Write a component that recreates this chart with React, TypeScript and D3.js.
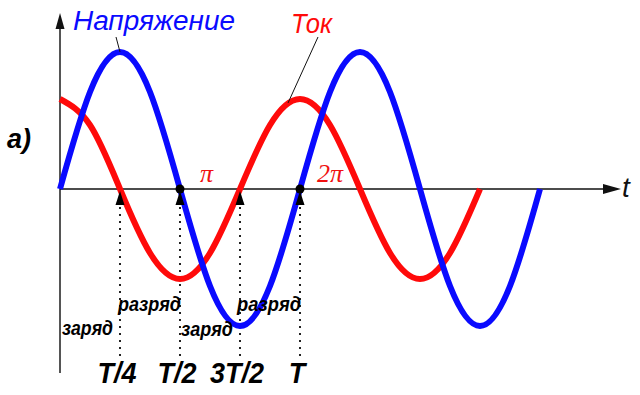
import React from "react";
import * as d3 from "d3";

// time in units of the period T
const timeV = [0, 0.125, 0.25, 0.375, 0.5, 0.625, 0.75, 0.875, 1, 1.125, 1.25, 1.375, 1.5, 1.625, 1.75, 1.875, 2];
const voltage = [0, 0.97, 1.37, 0.97, 0, -0.97, -1.37, -0.97, 0, 0.97, 1.37, 0.97, 0, -0.97, -1.37, -0.97, 0];
const timeI = [0, 0.125, 0.25, 0.375, 0.5, 0.625, 0.75, 0.875, 1, 1.125, 1.25, 1.375, 1.5, 1.625, 1.75];
const current = [0.9, 0.64, 0, -0.64, -0.9, -0.64, 0, 0.64, 0.9, 0.64, 0, -0.64, -0.9, -0.64, 0];

const tickPos = [0.25, 0.5, 0.75, 1];
const tickLabels = ["T/4", "T/2", "3T/2", "T"];
const dotPos = [0.5, 1];
const phaseLabels = ["π", "2π"];
const processLabels = ["заряд", "разряд", "заряд", "разряд"];

const SANS = "'Liberation Sans', Arial, sans-serif";
const SERIF = "'Liberation Serif', 'Times New Roman', serif";

export default function App() {
  const W = 640;
  const H = 395;
  const x = d3.scaleLinear().domain([0, 1]).range([60, 300]);
  const y = d3.scaleLinear().domain([-1.37, 1.37]).range([326, 52]);
  const y0 = y(0);

  const vLine = d3
    .line<number>()
    .x((_, i) => x(timeV[i]))
    .y((d) => y(d))
    .curve(d3.curveNatural);
  const iLine = d3
    .line<number>()
    .x((_, i) => x(timeI[i]))
    .y((d) => y(d))
    .curve(d3.curveNatural);

  const labelStyle = { fontFamily: SANS, fontWeight: 700, fontStyle: "italic" } as const;

  return (
    <svg
      width={W}
      height={H}
      viewBox={`0 0 ${W} ${H}`}
      style={{ position: "fixed", left: 0, top: 0, background: "#fff" }}
    >
      <rect width={W} height={H} fill="#fff" />
      {/* vertical axis */}
      <line x1={x(0)} x2={x(0)} y1={26} y2={373} stroke="#555" strokeWidth={2} />
      <path d={`M${x(0)},13 L${x(0) - 4.5},29 L${x(0) + 4.5},29 Z`} fill="#111" />
      {/* horizontal axis */}
      <line x1={x(0)} x2={606} y1={y0} y2={y0} stroke="#111" strokeWidth={1.5} />
      <path d={`M621,${y0} L603,${y0 - 5} L603,${y0 + 5} Z`} fill="#111" />
      <text x={622} y={197} fontFamily={SANS} fontStyle="italic" fontSize={28} fill="#111">
        t
      </text>

      {/* dotted guide lines */}
      {tickPos.map((p, i) => (
        <line
          key={"g" + i}
          x1={x(p)}
          x2={x(p)}
          y1={207}
          y2={356}
          stroke="#222"
          strokeWidth={2}
          strokeDasharray="2,5"
        />
      ))}

      {/* curves */}
      <path d={iLine(current) || ""} fill="none" stroke="#ff0a0a" strokeWidth={6} />
      <path d={vLine(voltage) || ""} fill="none" stroke="#0a0aff" strokeWidth={6} />

      {/* markers */}
      {tickPos.map((p, i) => (
        <path
          key={"a" + i}
          d={`M${x(p)},${y0 + 2} L${x(p) - 4.5},${y0 + 16} L${x(p) + 4.5},${y0 + 16} Z`}
          fill="#000"
        />
      ))}
      {dotPos.map((p, i) => (
        <circle key={"d" + i} cx={x(p)} cy={y0} r={4.5} fill="#000" />
      ))}

      {/* tick labels */}
      {tickLabels.map((t, i) => (
        <text
          key={"t" + i}
          x={x(tickPos[i]) - 3}
          y={383}
          textAnchor="middle"
          fontSize={27}
          transform={`translate(0,383) scale(1,1.12) translate(0,-383)`}
          style={labelStyle}
          fill="#000"
        >
          {t}
        </text>
      ))}

      {/* process labels */}
      <text x={62} y={335} fontSize={20} style={labelStyle} textLength={51} lengthAdjust="spacingAndGlyphs">
        {processLabels[0]}
      </text>
      <text x={118} y={311} fontSize={20} style={labelStyle} textLength={63} lengthAdjust="spacingAndGlyphs">
        {processLabels[1]}
      </text>
      <text x={181} y={336} fontSize={20} style={labelStyle} textLength={52} lengthAdjust="spacingAndGlyphs">
        {processLabels[2]}
      </text>
      <text x={237} y={311} fontSize={20} style={labelStyle} textLength={64} lengthAdjust="spacingAndGlyphs">
        {processLabels[3]}
      </text>

      {/* phase labels */}
      <text x={200} y={182} fontFamily={SERIF} fontStyle="italic" fontSize={26} fill="#f01010">
        {phaseLabels[0]}
      </text>
      <text x={317} y={182} fontFamily={SERIF} fontStyle="italic" fontSize={26} fill="#f01010">
        {phaseLabels[1]}
      </text>

      {/* a) */}
      <text x={7} y={148} fontSize={27} style={labelStyle} fill="#000">
        a)
      </text>

      {/* series labels with leader lines */}
      <text
        x={73}
        y={30}
        fontFamily={SANS}
        fontStyle="italic"
        fontSize={27}
        fill="#0a0aff"
        textLength={162}
        lengthAdjust="spacingAndGlyphs"
      >
        Напряжение
      </text>
      <line x1={116} y1={37} x2={120} y2={52} stroke="#111" strokeWidth={1} />
      <text
        x={291}
        y={33}
        fontFamily={SANS}
        fontStyle="italic"
        fontSize={27}
        fill="#ff0a0a"
        textLength={41}
        lengthAdjust="spacingAndGlyphs"
      >
        Ток
      </text>
      <line x1={318} y1={37} x2={288} y2={103} stroke="#111" strokeWidth={1} />
    </svg>
  );
}
